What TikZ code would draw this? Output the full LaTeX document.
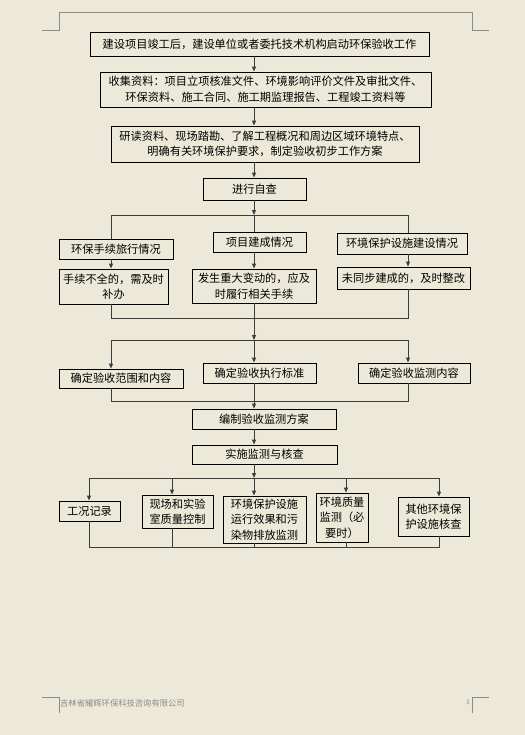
\documentclass[tikz,border=0pt]{standalone}
\usepackage{fontspec}
\setmainfont{Noto Sans CJK SC}
\usetikzlibrary{arrows.meta}
\definecolor{pagebg}{RGB}{236,233,216}
\definecolor{linegrey}{RGB}{60,60,60}
\definecolor{markgrey}{RGB}{140,140,140}
\tikzset{
  box/.style={draw=black, line width=0.9bp, inner sep=0pt, align=center,
    font=\fontsize{11.2bp}{15.5bp}\selectfont},
  conn/.style={draw=linegrey, line width=1bp},
  arr/.style={conn, -{Triangle[length=5bp,width=4bp]}},
  cornermark/.style={draw=markgrey, line width=0.7bp}
}
\begin{document}
\begin{tikzpicture}[x=1bp, y=-1bp]
\useasboundingbox (0,0) rectangle (525,735);
\fill[pagebg] (0,0) rectangle (525,735);
% page corner marks
\draw[cornermark] (42,30) -- (59,30) -- (59,12) -- (472,12) -- (472,30) -- (489,30);
\draw[cornermark] (42,697) -- (59,697) -- (59,713);
\draw[cornermark] (489,697) -- (472,697) -- (472,713);
\node[anchor=west, inner sep=0pt, text=markgrey, font=\fontsize{8.3bp}{9bp}\selectfont] (foot) at (60,703) {吉林省耀辉环保科技咨询有限公司};
\node[anchor=east, inner sep=0pt, text=markgrey, font=\fontsize{6bp}{7bp}\selectfont] (pgno) at (470,702) {5};
% trunk coordinates
\coordinate (tx) at (254,0);
% top chain
\node[box, minimum width=339bp, minimum height=24bp] (b1) at (259.5,44) {建设项目竣工后，建设单位或者委托技术机构启动环保验收工作};
\node[box, minimum width=331bp, minimum height=35bp] (b2) at (265.5,89.5) {收集资料：项目立项核准文件、环境影响评价文件及审批文件、\\环保资料、施工合同、施工期监理报告、工程竣工资料等};
\node[box, minimum width=308bp, minimum height=36bp] (b3) at (265,144) {研读资料、现场踏勘、了解工程概况和周边区域环境特点、\\明确有关环境保护要求，制定验收初步工作方案};
\node[box, minimum width=103bp, minimum height=22bp] (b4) at (254.5,189) {进行自查};
% self check row
\node[box, minimum width=114bp, minimum height=20bp] (L1) at (116,249) {环保手续旅行情况};
\node[box, minimum width=93bp, minimum height=20bp] (M1) at (259.5,242) {项目建成情况};
\node[box, minimum width=130bp, minimum height=21bp] (R1) at (402,243.5) {环境保护设施建设情况};
\node[box, minimum width=109bp, minimum height=35bp] (L2) at (113.5,286.5) {手续不全的，需及时\\补办};
\node[box, minimum width=124bp, minimum height=34bp] (M2) at (254,286) {发生重大变动的，应及\\时履行相关手续};
\node[box, minimum width=133bp, minimum height=22bp] (R2) at (403.5,278) {未同步建成的，及时整改};
% determination row
\node[box, minimum width=124bp, minimum height=19bp] (C1) at (121,378.5) {确定验收范围和内容};
\node[box, minimum width=113bp, minimum height=20bp] (C2) at (259.5,373) {确定验收执行标准};
\node[box, minimum width=112bp, minimum height=20bp] (C3) at (414,373) {确定验收监测内容};
\node[box, minimum width=144bp, minimum height=20bp] (D1) at (264,419) {编制验收监测方案};
\node[box, minimum width=145bp, minimum height=19bp] (D2) at (264.5,454.5) {实施监测与核查};
% bottom row
\node[box, minimum width=61bp, minimum height=20bp] (E1) at (89.5,511) {工况记录};
\node[box, minimum width=71bp, minimum height=33bp] (E2) at (177.5,511.5) {现场和实验\\室质量控制};
\node[box, minimum width=83bp, minimum height=47bp] (E3) at (264.5,519.5) {环境保护设施\\运行效果和污\\染物排放监测};
\node[box, minimum width=52bp, minimum height=49bp] (E4) at (342,517.5) {环境质量\\监测（必\\要时）};
\node[box, minimum width=71bp, minimum height=39bp] (E5) at (433.5,516.5) {其他环境保\\护设施核查};
% junction coordinates
\coordinate (j1) at (254,215);
\coordinate (j1L) at (111,215);
\coordinate (j1R) at (408,215);
\coordinate (j2L) at (111,318);
\coordinate (j2R) at (408,318);
\coordinate (j3) at (254,340);
\coordinate (j3L) at (111,340);
\coordinate (j3R) at (408,340);
\coordinate (j4L) at (111,401);
\coordinate (j4R) at (408,401);
\coordinate (j5) at (254,478);
\coordinate (j5a) at (89,478);
\coordinate (j5b) at (172,478);
\coordinate (j5d) at (346,478);
\coordinate (j5e) at (439,478);
\coordinate (j6a) at (89,547);
\coordinate (j6b) at (172,547);
\coordinate (j6c) at (254,547);
\coordinate (j6d) at (346,547);
\coordinate (j6e) at (439,547);
% top chain connectors
\draw[arr] (b1.south -| tx) -- (b2.north -| tx);
\draw[arr] (b2.south -| tx) -- (b3.north -| tx);
\draw[arr] (b3.south -| tx) -- (b4.north -| tx);
\draw[arr] (b4.south -| tx) -- (j1);
\draw[conn] (j1L) -- (j1R);
\draw[conn] (j1L) -- (j1L |- L1.north);
\draw[conn] (j1) -- (j1 |- M1.north);
\draw[conn] (j1R) -- (j1R |- R1.north);
\draw[arr] (L1.south -| j1L) -- (L2.north -| j1L);
\draw[arr] (M1.south -| j1) -- (M2.north -| j1);
\draw[arr] (R1.south -| j1R) -- (R2.north -| j1R);
\draw[conn] (L2.south -| j2L) -- (j2L) -- (j2R) -- (R2.south -| j2R);
\draw[arr] (M2.south -| tx) -- (j3);
\draw[conn] (j3L) -- (j3R);
\draw[arr] (j3L) -- (j3L |- C1.north);
\draw[arr] (j3) -- (j3 |- C2.north);
\draw[arr] (j3R) -- (j3R |- C3.north);
\draw[conn] (C1.south -| j4L) -- (j4L) -- (j4R) -- (C3.south -| j4R);
\draw[arr] (C2.south -| tx) -- (D1.north -| tx);
\draw[arr] (D1.south -| tx) -- (D2.north -| tx);
\draw[arr] (D2.south -| tx) -- (j5);
\draw[conn] (j5a) -- (j5e);
\draw[arr] (j5a) -- (j5a |- E1.north);
\draw[arr] (j5b) -- (j5b |- E2.north);
\draw[arr] (j5) -- (j5 |- E3.north);
\draw[arr] (j5d) -- (j5d |- E4.north);
\draw[arr] (j5e) -- (j5e |- E5.north);
\draw[conn] (E1.south -| j6a) -- (j6a) -- (j6e) -- (E5.south -| j6e);
\draw[conn] (E2.south -| j6b) -- (j6b);
\draw[conn] (E3.south -| j6c) -- (j6c);
\draw[conn] (E4.south -| j6d) -- (j6d);
\end{tikzpicture}
\end{document}
